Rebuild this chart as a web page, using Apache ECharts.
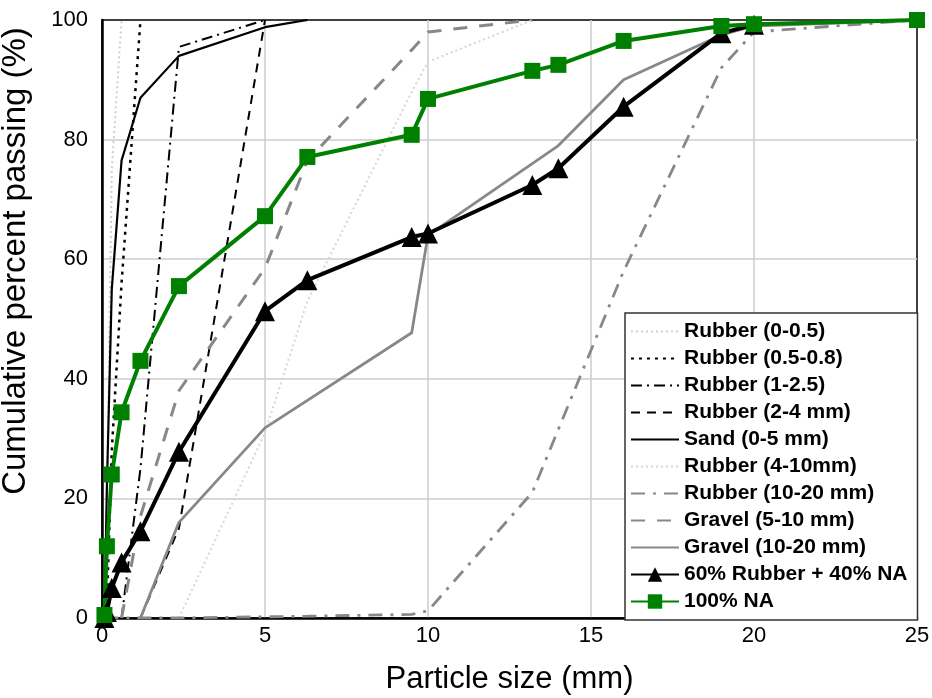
<!DOCTYPE html>
<html>
<head>
<meta charset="utf-8">
<script src="https://cdn.jsdelivr.net/npm/echarts@6/dist/echarts.min.js"></script>
<style>
  html, body { margin: 0; padding: 0; background: #fff; }
  #main { width: 932px; height: 698px; }
</style>
</head>
<body>
<div id="main"></div>
<script>
var myChart = echarts.init(document.getElementById('main'));

// sieve sizes (mm)
var sizes = [0.075, 0.15, 0.3, 0.6, 1.18, 2.36, 5, 6.3, 9.5, 10, 13.2, 14, 16, 19, 20, 25];

// cumulative % passing, aligned with sizes (null = no point)
var rubber0_05   = [0, 20, 75, 100, null, null, null, null, null, null, null, null, null, null, null, null];
var rubber05_08  = [0, 2, 28, 56, 100, null, null, null, null, null, null, null, null, null, null, null];
var rubber1_25   = [null, null, null, 0, 25, 95.5, 100, null, null, null, null, null, null, null, null, null];
var rubber2_4    = [null, null, null, null, 0, 15, 100, null, null, null, null, null, null, null, null, null];
var sand0_5      = [0, 22, 55, 76.5, 87, 94, 98.8, 100, null, null, null, null, null, null, null, null];
var rubber4_10   = [null, null, null, null, null, 0, 31, 53, 88, 93, 100, null, null, null, null, null];
var rubber10_20  = [0, 0, 0, 0, 0, 0, 0.2, 0.3, 0.6, 1.2, 21, null, 58, 92, 98, 100];
var gravel5_10   = [null, null, null, 0, 17, 38, 58.5, 76.5, 95, 98, 100, null, null, null, null, null];
var gravel10_20  = [null, null, null, null, 0, 16, 31.8, null, 47.7, 64, null, 79, 90, 97.5, 99, 100];
var mix60_40     = [0, 1, 5, 9.3, 14.5, 27.8, 51.3, 56.5, 63.7, 64.3, 72.4, 75.2, 85.5, 97.8, 99.2, null];
var na100        = [0.5, 12, 24, 34.4, 43, 55.5, 67.2, 77.1, 80.8, 86.8, 91.5, 92.5, 96.5, 99, 99.3, 100];

var legendNames = ['Rubber (0-0.5)', 'Rubber (0.5-0.8)', 'Rubber (1-2.5)', 'Rubber (2-4 mm)', 'Sand (0-5 mm)',
                   'Rubber (4-10mm)', 'Rubber (10-20 mm)', 'Gravel (5-10 mm)', 'Gravel (10-20 mm)',
                   '60% Rubber + 40% NA', '100% NA'];

function pts(vals) {
    var out = [];
    for (var i = 0; i < sizes.length; i++) {
        if (vals[i] !== null) out.push([sizes[i], vals[i]]);
    }
    return out;
}

function plain(name, vals, color, width, type) {
    return {
        name: name,
        type: 'line',
        symbol: 'none',
        data: pts(vals),
        lineStyle: { color: color, width: width, type: type, cap: 'butt' },
        itemStyle: { color: color },
        emphasis: { disabled: true }
    };
}

var font = 'Liberation Sans, Arial, Helvetica, sans-serif';

// legend entries: hide the dot for the plain lines
var legendData = legendNames.map(function (n, i) {
    return i < 9 ? { name: n, itemStyle: { opacity: 0 } } : { name: n };
});

option = {
    backgroundColor: '#fff',
    animation: false,
    grid: {
        left: 102,
        right: 15,
        top: 20,
        bottom: 80,
        outerBoundsMode: 'none',
        containLabel: false,
        show: true,
        borderColor: '#000',
        borderWidth: 1.5
    },
    xAxis: {
        type: 'value',
        min: 0,
        max: 25,
        interval: 5,
        name: 'Particle size (mm)',
        nameLocation: 'middle',
        nameGap: 46,
        nameTextStyle: { fontSize: 31, color: '#000', fontFamily: font },
        axisLine: { show: true, onZero: false, lineStyle: { color: '#000', width: 2.5 } },
        axisTick: { show: false },
        axisLabel: { fontSize: 22, color: '#000', margin: 7, fontFamily: font },
        splitLine: { show: true, showMinLine: false, showMaxLine: false, lineStyle: { color: '#cccccc', width: 1.5 } }
    },
    yAxis: {
        type: 'value',
        min: 0,
        max: 100,
        interval: 20,
        name: 'Cumulative percent passing (%)',
        nameLocation: 'middle',
        nameGap: 70,
        nameTextStyle: { fontSize: 33, color: '#000', fontFamily: font, padding: [0, 0, 0, 116] },
        axisLine: { show: true, lineStyle: { color: '#000', width: 2.5 } },
        axisTick: { show: false },
        axisLabel: { fontSize: 22, color: '#000', margin: 14, fontFamily: font },
        splitLine: { show: true, showMinLine: false, showMaxLine: false, lineStyle: { color: '#cccccc', width: 1.5 } }
    },
    legend: {
        orient: 'vertical',
        left: 625,
        top: 313,
        padding: [8, 10, 8, 5],
        itemWidth: 48,
        itemHeight: 18,
        itemGap: 6,
        backgroundColor: '#fff',
        borderColor: '#333',
        borderWidth: 1.5,
        selectedMode: false,
        textStyle: { fontSize: 21, fontWeight: 'bold', color: '#000', fontFamily: font },
        data: legendData
    },
    series: [
        plain('Rubber (0-0.5)', rubber0_05, '#cfcfcf', 2, [2, 3]),
        plain('Rubber (0.5-0.8)', rubber05_08, '#000', 2.5, [3, 5]),
        plain('Rubber (1-2.5)', rubber1_25, '#000', 2, [11, 5, 2, 5]),
        plain('Rubber (2-4 mm)', rubber2_4, '#000', 2, [9, 7]),
        plain('Sand (0-5 mm)', sand0_5, '#000', 2.2, 'solid'),
        plain('Rubber (4-10mm)', rubber4_10, '#d6d6d6', 2, [2, 3]),
        plain('Rubber (10-20 mm)', rubber10_20, '#888', 2.8, [14, 8, 3, 8]),
        plain('Gravel (5-10 mm)', gravel5_10, '#888', 3, [14, 12]),
        plain('Gravel (10-20 mm)', gravel10_20, '#888', 2.8, 'solid'),
        {
            name: '60% Rubber + 40% NA',
            type: 'line',
            symbol: 'triangle',
            symbolSize: 20,
            data: pts(mix60_40),
            lineStyle: { color: '#000', width: 4 },
            itemStyle: { color: '#000' },
            emphasis: { disabled: true }
        },
        {
            name: '100% NA',
            type: 'line',
            symbol: 'rect',
            symbolSize: 16,
            data: pts(na100),
            lineStyle: { color: '#008000', width: 4 },
            itemStyle: { color: '#008000' },
            emphasis: { disabled: true }
        }
    ]
};

myChart.setOption(option);
</script>
</body>
</html>
